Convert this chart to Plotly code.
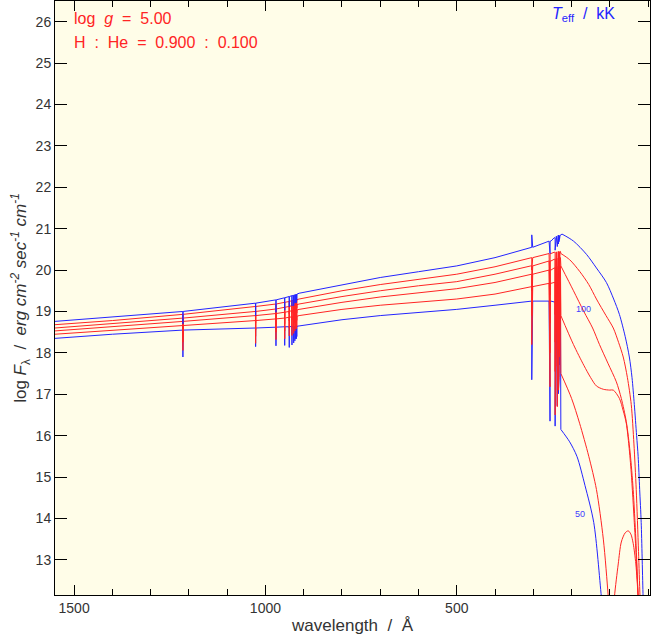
import numpy as np
import plotly.graph_objects as go

TEMPS = [50, 60, 70, 80, 90, 100]
COLORS = ["#2424ff", "#ff2424", "#ff2424", "#ff2424", "#ff2424", "#2424ff"]

# continuum anchor wavelengths (Angstrom), long-wavelength side of the He II edge
CONT_LAM = [1550, 1400, 1215, 1026, 972, 950, 938, 931, 926, 923, 920, 912, 800, 700, 600, 500, 400, 304, 256, 243, 237, 229]
CONT = {
    50:  [18.35, 18.45, 18.55, 18.60, 18.62, 18.63, 18.63, 18.64, 18.64, 18.64, 18.64, 18.65, 18.80, 18.90, 18.98, 19.05, 19.15, 19.25, 19.25, 19.23, 19.22, 19.20],
    60:  [18.45, 18.55, 18.66, 18.78, 18.82, 18.84, 18.86, 18.87, 18.87, 18.88, 18.88, 18.90, 19.05, 19.15, 19.22, 19.30, 19.42, 19.60, 19.68, 19.70, 19.70, 19.70],
    70:  [18.53, 18.63, 18.76, 18.90, 18.95, 18.98, 19.00, 19.02, 19.02, 19.03, 19.03, 19.05, 19.22, 19.35, 19.45, 19.55, 19.70, 19.90, 20.00, 20.05, 20.08, 20.10],
    80:  [18.60, 18.70, 18.84, 19.00, 19.06, 19.10, 19.12, 19.14, 19.15, 19.15, 19.16, 19.18, 19.36, 19.50, 19.62, 19.72, 19.90, 20.10, 20.22, 20.26, 20.28, 20.30],
    90:  [18.68, 18.78, 18.93, 19.12, 19.18, 19.22, 19.24, 19.26, 19.27, 19.27, 19.28, 19.30, 19.50, 19.65, 19.78, 19.90, 20.08, 20.30, 20.40, 20.43, 20.44, 20.45],
    100: [18.76, 18.86, 19.00, 19.20, 19.28, 19.33, 19.36, 19.38, 19.39, 19.40, 19.41, 19.44, 19.65, 19.82, 19.96, 20.10, 20.30, 20.55, 20.70, 20.78, 20.82, 20.85],
}

# spectral lines and their depths (positive = absorption, negative = emission)
LINE_LAM = [1215.7, 1025.7, 972.5, 949.7, 937.8, 930.7, 926.2, 923.1, 920.9, 919.3, 918.1, 304.0, 256.3, 243.0, 237.3, 234.3, 232.6, 231.5]
DEPTH = {
    50:  [0.65, 0.45, 0.45, 0.45, 0.50, 0.45, 0.40, 0.35, 0.30, 0.30, 0.25, 1.90, 2.90, 3.00, 2.50, 2.20, 1.80, 1.50],
    60:  [0.60, 0.55, 0.50, 0.50, 0.45, 0.45, 0.40, 0.35, 0.30, 0.30, 0.25, 1.40, 2.50, 3.20, 3.00, 2.60, 2.20, 1.80],
    70:  [0.50, 0.50, 0.45, 0.45, 0.40, 0.40, 0.35, 0.30, 0.30, 0.25, 0.25, 1.00, 2.00, 2.50, 2.40, 2.00, 1.80, 1.50],
    80:  [0.45, 0.45, 0.40, 0.40, 0.35, 0.35, 0.30, 0.30, 0.25, 0.25, 0.20, 0.60, 1.50, 2.00, 1.80, 1.50, 1.30, 1.00],
    90:  [0.40, 0.40, 0.35, 0.35, 0.30, 0.30, 0.30, 0.25, 0.25, 0.20, 0.20, 0.30, 1.00, 1.50, 1.30, 1.00, 0.80, 0.60],
    100: [0.30, 0.30, 0.30, 0.30, 0.25, 0.25, 0.25, 0.20, 0.20, 0.20, 0.15, -0.30, 0.30, 0.30, 0.25, 0.20, 0.15, 0.10],
}

# short-wavelength side of the He II edge (228 A)
POST_LAM = {
    50:  [228, 205, 186, 165, 142, 122, 110],
    60:  [228, 200, 179, 155, 135, 117, 104, 96, 88, 78, 70, 60, 52, 45, 39, 32, 26, 20],
    70:  [228, 195, 168, 150, 135, 117, 100, 91, 75, 65, 57, 50, 44, 36, 30, 26, 20],
    80:  [228, 195, 168, 145, 127, 105, 83, 70, 57, 47, 39, 32, 26, 20],
    90:  [228, 205, 179, 155, 135, 110, 91, 77, 65, 54, 44, 37, 31, 25, 21, 15],
    100: [225, 195, 161, 135, 109, 90, 75, 60, 49, 42, 36, 30, 26, 22, 18, 13, 9],
}
POST_VAL = {
    50:  [16.15, 15.85, 15.50, 14.80, 13.90, 12.10, 11.00],
    60:  [17.50, 16.90, 16.30, 15.50, 14.70, 13.50, 12.10, 11.00, 12.10, 12.90, 13.43, 13.65, 13.70, 13.62, 13.40, 12.90, 12.10, 11.00],
    70:  [18.90, 18.20, 17.70, 17.40, 17.20, 17.12, 17.10, 17.10, 16.90, 16.60, 16.30, 15.75, 15.10, 13.90, 12.90, 12.10, 11.00],
    80:  [20.10, 19.50, 19.00, 18.60, 18.20, 17.75, 17.30, 16.90, 16.34, 15.60, 14.70, 13.50, 12.10, 11.00],
    90:  [20.40, 20.25, 19.97, 19.65, 19.30, 18.90, 18.60, 18.25, 17.90, 17.40, 16.75, 15.80, 14.70, 13.20, 12.10, 11.00],
    100: [20.87, 20.70, 20.38, 20.05, 19.70, 19.30, 18.93, 18.40, 17.90, 17.40, 16.75, 16.00, 15.50, 14.70, 13.90, 12.10, 11.00],
}

fig = go.Figure()
for T, col in zip(TEMPS, COLORS):
    cl = np.array(CONT_LAM[::-1], float)
    cv = np.array(CONT[T][::-1], float)
    pts = list(zip(CONT_LAM, CONT[T]))
    for lam, d in zip(LINE_LAM, DEPTH[T]):
        c = float(np.interp(lam, cl, cv))
        w = 2.5 if lam < 400 else 0.4
        pts += [(lam + w, c), (lam, c - d), (lam - w, c)]
    pts.sort(key=lambda p: -p[0])
    xs = [p[0] for p in pts] + [POST_LAM[T][0]]
    ys = [p[1] for p in pts] + [POST_VAL[T][0]]
    fig.add_trace(go.Scatter(x=xs, y=ys, mode="lines", line=dict(color=col, width=1),
                             showlegend=False, hoverinfo="skip"))
    fig.add_trace(go.Scatter(x=POST_LAM[T], y=POST_VAL[T], mode="lines",
                             line=dict(color=col, width=1, shape="spline", smoothing=0.8),
                             showlegend=False, hoverinfo="skip"))

fig.add_annotation(x=168, y=19.07, text="100", showarrow=False,
                   font=dict(color="#4040ff", size=9))
fig.add_annotation(x=178, y=14.1, text="50", showarrow=False,
                   font=dict(color="#4040ff", size=9))
fig.add_annotation(xref="paper", yref="paper", x=0.028, y=0.988, xanchor="left", yanchor="top",
                   text="log  <i>g</i>  =  5.00", showarrow=False, align="left",
                   font=dict(color="#ff2424", size=16, family="Liberation Sans"))
fig.add_annotation(xref="paper", yref="paper", x=0.028, y=0.948, xanchor="left", yanchor="top",
                   text="H  :  He  =  0.900  :  0.100", showarrow=False, align="left",
                   font=dict(color="#ff2424", size=16, family="Liberation Sans"))
fig.add_annotation(xref="paper", yref="paper", x=0.945, y=0.997, xanchor="right", yanchor="top",
                   text="<i>T</i><sub>eff</sub>  /  kK", showarrow=False,
                   font=dict(color="#2424ff", size=16, family="Liberation Sans"))

fig.update_layout(
    width=651, height=642,
    margin=dict(l=55, r=1, t=1, b=47),
    paper_bgcolor="white", plot_bgcolor="#fffde8",
    font=dict(family="Liberation Sans", color="#333333", size=14),
    xaxis=dict(range=[1550, -5], ticks="inside", ticklen=10, tickcolor="black",
               tickvals=[1500, 1000, 500], ticktext=["1500", "1000", "500"],
               minor=dict(dtick=100, ticks="inside", ticklen=6, tickcolor="black", tick0=0),
               showgrid=False, zeroline=False, showline=True, linecolor="black", mirror="ticks",
               automargin=False,
               title=dict(text="wavelength  /  Å", standoff=4)),
    yaxis=dict(range=[12.15, 26.5], ticks="inside", ticklen=12, tickcolor="black", dtick=1,
               showgrid=False, zeroline=False, showline=True, linecolor="black", mirror="ticks",
               automargin=False,
               title=dict(text="log <i>F</i><sub>λ</sub>  /  <i>erg cm<sup>-2</sup> sec<sup>-1</sup> cm<sup>-1</sup></i>",
                          standoff=4)),
)
fig.write_html("out.html", config={"displayModeBar": False},
               post_script="document.body.style.margin='0';")
